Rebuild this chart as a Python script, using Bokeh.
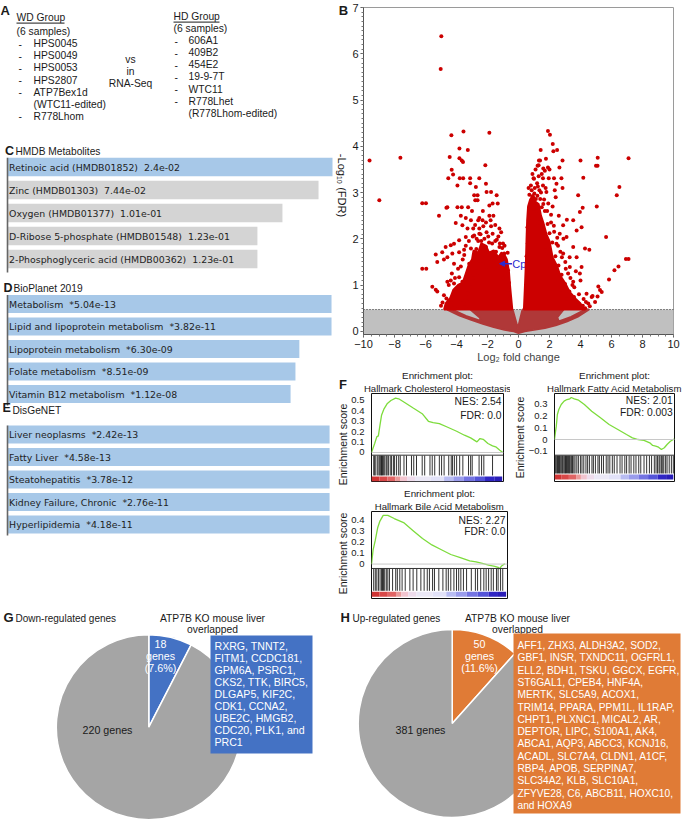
import numpy as np
from bokeh.plotting import figure
from bokeh.models import Range1d, FixedTicker, Span, Arrow, NormalHead, Title, BoxAnnotation, Spacer
from bokeh.layouts import column, row
from bokeh.embed import file_html
from bokeh.resources import INLINE
from bokeh.core.properties import value

SANS = "Liberation Sans"
VERA = "DejaVu Sans"

# ---------------- data: panel A ----------------
WD_LINES = ["(6 samples)", "HPS0045", "HPS0049", "HPS0053", "HPS2807", "ATP7Bex1d", "(WTC11-edited)", "R778Lhom"]
WD_DASH = [False, True, True, True, True, True, False, True]
HD_LINES = ["(6 samples)", "606A1", "409B2", "454E2", "19-9-7T", "WTC11", "R778Lhet", "(R778Lhom-edited)"]
HD_DASH = [False, True, True, True, True, True, True, False]
MID_LINES = ["vs", "in", "RNA-Seq"]

# ---------------- data: panels C, D, E ----------------
C_TERMS = ["Retinoic acid (HMDB01852)", "Zinc (HMDB01303)", "Oxygen (HMDB01377)",
           "D-Ribose 5-phosphate (HMDB01548)", "2-Phosphoglyceric acid (HMDB00362)"]
C_PVALS = ["2.4e-02", "7.44e-02", "1.01e-01", "1.23e-01", "1.23e-01"]
C_LENGTH = [1.0, 0.957, 0.846, 0.769, 0.769]
C_SIGNIF = [True, False, False, False, False]

D_TERMS = ["Metabolism", "Lipid and lipoprotein metabolism", "Lipoprotein metabolism",
           "Folate metabolism", "Vitamin B12 metabolism"]
D_PVALS = ["5.04e-13", "3.82e-11", "6.30e-09", "8.51e-09", "1.12e-08"]
D_LENGTH = [0.997, 0.997, 0.898, 0.886, 0.871]

E_TERMS = ["Liver neoplasms", "Fatty Liver", "Steatohepatitis", "Kidney Failure, Chronic", "Hyperlipidemia"]
E_PVALS = ["2.42e-13", "4.58e-13", "3.78e-12", "2.76e-11", "4.18e-11"]
E_LENGTH = [0.991, 0.991, 0.991, 0.991, 0.991]

# ---------------- data: panel B (volcano) ----------------
FDR_CUT = 0.47
VOLC_X = [-9.61, -7.62, -8.98, -4.98, -5.02, -4.33, -3.55, -1.88, -3.81, -3.27, -4.44, -3.81, -3.66, -3.58,
          -2.14, -4.31, -4.22, -4.53, -3.79, -3.57, -3.12, -2.53, -3.12, -2.75, -2.10, -3.94, -2.86, -2.64,
          -2.06, -1.77, -1.41, -6.21, -5.97, -2.79, -2.64, -1.88, -1.67, -1.34, -4.59, -3.94, -3.66, -3.25,
          -5.13, -4.65, -3.72, -3.40, -3.07, -2.53, -2.32, -1.88, -1.62, -3.29, -2.92, -2.53, -2.27, -1.77,
          -1.23, -4.05, -3.62, -4.70, -4.37, -4.16, -3.83, -3.40, -2.86, -2.53, -2.06, -1.67, -1.12, -5.34,
          -4.92, -4.59, -4.27, -3.83, -3.51, -3.07, -2.10, -1.23, -6.21, -5.95, -5.24, -4.81, -4.16, -3.72,
          -3.18, -5.56, -5.34, -4.59, -4.37, -4.81, -4.65, -4.48, -4.26, -4.16, -3.83, -3.62, -3.40, -5.24,
          -3.90, -3.70, -3.45, -3.30, -3.15, -2.95, -2.70, -2.55, -2.35, -2.85, -1.95, -1.75, -1.55, -1.35,
          -1.05, -0.92, -0.78, -0.68, -1.45, -2.20, -2.72, -0.62, -0.56, -1.90, -1.40, -2.40, -1.00, -0.85,
          -4.50, -4.20, -4.00, -2.90, -2.50, -2.10, -1.60, -1.20, -0.80, -3.10, -3.35, -0.70, -1.00, -2.30,
          -3.40, -3.20, -2.95, -2.70, -2.45, -2.20, -1.95, -1.50, -1.30, -2.80, -2.60, -2.10, -1.80, -3.00,
          -2.30, -1.50, -1.20, -0.90, -3.60, -3.90, -4.30, -4.50, -4.90, -5.00, -4.10, -3.50, -2.60, -1.70,
          -1.05, -0.70,
          1.90, 2.03, 2.21, 1.43, 2.49, 2.25, 1.77, 1.32, 1.39, 2.84, 4.00, 5.11, 7.10, 1.23, 1.30, 1.90,
          1.60, 2.64, 5.00, 5.10, 2.00, 1.70, 0.97, 1.58, 1.95, 2.29, 2.77, 4.18, 1.25, 1.58, 2.45, 2.84,
          2.34, 1.80, 3.85, 6.34, 6.51, 5.05, 4.14, 3.12, 4.07, 5.65, 4.29, 4.57, 7.10, 6.93, 6.45, 6.19,
          5.84, 5.15, 5.26, 4.78, 5.10, 4.35, 4.94, 5.37, 3.96, 3.53, 3.75, 3.10, 3.53, 2.88, 3.75, 3.31,
          4.07, 3.96, 3.53, 4.72, 4.39, 2.88, 2.66, 2.45, 0.60, 0.68, 0.78, 0.90, 1.02, 1.12, 1.22, 1.40,
          1.50, 1.70, 1.88, 2.00, 2.18, 2.38, 2.58, 2.78, 3.00, 3.28, 3.58, 3.88, 4.15, 2.10, 2.28, 1.92,
          2.50, 2.70, 3.02, 3.20, 3.48, 0.62, 0.52, 1.05, 1.35, 0.85, 1.65, 4.30, 4.60,
          0.58, 0.72, 1.15, 1.30, 1.50, 1.75, 2.05, 2.35, 2.70, 3.10, 3.40, 1.00, 1.60, 1.95,
          0.70, 0.80, 1.00, 1.20, 1.45, 1.60, 1.85, 2.10, 2.30, 2.55, 2.80, 3.05, 3.35, 3.60, 3.90,
          4.20, 4.50, 0.65, 1.30, 1.75, 2.20, 2.60, 2.90, 3.30, 3.70, 4.00, 2.40, 1.10, 0.90, 1.50]
VOLC_Y = [3.69, 3.75, 2.83, 6.38, 5.67, 4.24, 4.32, 4.29, 3.95, 3.92, 3.77, 3.74, 3.69, 3.66,
          3.59, 3.49, 3.39, 3.31, 3.31, 3.31, 3.31, 3.31, 3.20, 3.12, 3.19, 3.15, 2.94, 2.94,
          3.01, 3.01, 2.94, 2.77, 2.77, 2.83, 2.83, 2.72, 2.76, 2.76, 2.68, 2.68, 2.68, 2.68,
          2.50, 2.67, 2.50, 2.45, 2.40, 2.45, 2.40, 2.50, 2.50, 2.22, 2.22, 2.22, 2.27, 2.27,
          2.22, 2.34, 2.29, 1.82, 1.86, 1.89, 1.97, 2.04, 2.07, 2.11, 2.14, 2.11, 2.14, 1.66,
          1.71, 1.60, 1.68, 1.71, 1.76, 1.79, 1.82, 1.82, 1.35, 1.35, 1.50, 1.55, 1.46, 1.40,
          1.46, 0.96, 0.90, 1.07, 1.10, 0.78, 0.71, 0.63, 0.60, 1.03, 1.17, 1.07, 0.96, 0.86,
          0.55, 0.68, 0.52, 0.82, 1.00, 1.25, 1.30, 1.52, 1.60, 1.62, 1.58, 1.68, 1.52, 1.60,
          1.55, 1.68, 1.42, 1.32, 1.72, 1.75, 1.78, 1.05, 0.70, 1.92, 1.98, 1.95, 1.90, 1.20,
          0.52, 0.50, 0.75, 1.15, 1.25, 1.32, 1.35, 1.38, 1.45, 0.95, 0.65, 0.90, 1.15, 1.45,
          1.85, 1.95, 2.05, 2.00, 2.10, 2.00, 2.05, 1.95, 2.05, 2.30, 2.40, 2.35, 2.40, 2.60,
          2.60, 2.30, 1.90, 1.85, 1.55, 1.35, 1.25, 1.00, 0.62, 0.55, 1.15, 1.65, 1.95, 1.90,
          1.80, 1.70,
          4.33, 4.25, 4.05, 3.92, 3.92, 3.89, 3.73, 3.69, 3.69, 3.69, 3.69, 3.75, 3.74, 3.58, 3.59, 3.54,
          3.52, 3.54, 3.58, 3.58, 3.50, 3.47, 3.31, 3.31, 3.31, 3.31, 3.31, 3.32, 3.13, 3.15, 3.19, 3.10,
          3.05, 3.01, 2.94, 2.94, 3.12, 2.70, 2.67, 2.41, 2.25, 2.04, 1.79, 1.76, 1.56, 1.56, 1.40, 1.32,
          1.12, 0.97, 0.89, 0.76, 0.75, 0.63, 0.63, 0.85, 2.58, 2.40, 2.18, 2.04, 1.82, 1.68, 1.60, 1.39,
          1.39, 1.25, 1.07, 0.74, 0.81, 2.29, 2.11, 1.89, 1.90, 2.40, 2.72, 2.92, 2.98, 2.86, 2.93, 2.86,
          2.68, 2.60, 2.32, 2.12, 1.92, 1.62, 1.42, 1.22, 1.02, 0.86, 0.74, 0.60, 0.55, 2.52, 2.28, 2.76,
          2.02, 1.72, 1.50, 1.25, 1.00, 2.12, 1.62, 3.10, 3.05, 3.05, 2.85, 0.50, 0.54,
          2.25, 2.45, 2.60, 2.35, 2.00, 1.75, 1.35, 1.10, 0.90, 0.70, 0.55, 2.65, 2.20, 1.62,
          2.95, 3.15, 3.30, 3.20, 3.00, 2.75, 2.60, 2.35, 2.15, 1.85, 1.60, 1.35, 1.15, 0.95, 0.80,
          0.70, 0.60, 3.10, 3.35, 3.10, 2.70, 2.50, 2.00, 1.60, 1.30, 1.10, 2.90, 3.50, 3.40, 3.40]
# dense parts of the two arms (significant) and the non-significant bowl
LEFT_CORE_X = [-4.8, -4.7, -4.4, -4.2, -3.9, -3.6, -3.4, -3.2, -3.0, -2.9, -2.6, -2.4, -2.1, -1.9,
               -1.6, -1.3, -1.1, -0.9, -0.75, -0.62, -0.55, -0.48, -0.40]
LEFT_CORE_Y = [0.47, 0.60, 0.72, 0.90, 1.00, 1.05, 1.25, 1.45, 1.55, 1.75, 1.70, 1.90, 1.85, 1.70,
               1.75, 1.60, 1.70, 1.65, 1.55, 1.30, 1.00, 0.75, 0.47]
RIGHT_CORE_X = [0.35, 0.42, 0.48, 0.52, 0.56, 0.62, 0.75, 0.95, 1.10, 1.30, 1.45, 1.60, 1.80, 2.00,
                2.20, 2.50, 2.70, 3.00, 3.30, 3.70, 4.00, 4.30]
RIGHT_CORE_Y = [0.47, 1.00, 1.50, 2.00, 2.40, 2.70, 2.85, 2.95, 2.80, 2.75, 2.50, 2.35, 2.10, 1.95,
                1.60, 1.40, 1.20, 1.05, 0.85, 0.70, 0.60, 0.47]
BOWL_X = [-4.6, -3.8, -3.0, -2.3, -1.6, -0.9, -0.3, 0.0, 0.4, 1.0, 1.7, 2.4, 3.1, 3.8, 4.55,
          4.3, 3.4, 2.6, 2.5, 2.9, 0.26, -0.04, -0.38, -3.1, -2.5, -2.4, -3.4, -4.3]
BOWL_Y = [0.47, 0.34, 0.24, 0.16, 0.09, 0.03, 0.0, -0.04, 0.0, 0.03, 0.07, 0.13, 0.21, 0.31, 0.47,
          0.47, 0.31, 0.21, 0.30, 0.47, 0.47, 0.06, 0.47, 0.47, 0.30, 0.22, 0.33, 0.47]
CP_GENE = ("Cp", -0.40, 1.46)   # label, log2FC, -log10 FDR of label anchor
CP_POINT = (-1.22, 1.46)
X_TICKS = [-10, -8, -6, -4, -2, 0, 2, 4, 6, 8, 10]
Y_TICKS = [0, 1, 2, 3, 4, 5, 6, 7]

# ---------------- data: panel F (GSEA) ----------------
F1_X = [0.0, 0.024, 0.04, 0.052, 0.064, 0.076, 0.095, 0.118, 0.147, 0.182, 0.206, 0.254, 0.313, 0.384,
        0.431, 0.467, 0.514, 0.573, 0.645, 0.704, 0.751, 0.799, 0.822, 0.846, 0.882, 0.917, 0.941, 0.972, 0.995]
F1_Y = [0.0, 0.086, 0.15, 0.16, 0.26, 0.357, 0.42, 0.468, 0.50, 0.522, 0.516, 0.478, 0.43, 0.373,
        0.30, 0.287, 0.277, 0.245, 0.204, 0.166, 0.14, 0.102, 0.134, 0.127, 0.086, 0.064, 0.054, 0.022, 0.0]
F1_HITS = [0.017, 0.024, 0.033, 0.047, 0.057, 0.064, 0.071, 0.076, 0.083, 0.09, 0.10, 0.111, 0.118, 0.128,
           0.142, 0.152, 0.166, 0.175, 0.19, 0.206, 0.218, 0.246, 0.265, 0.303, 0.32, 0.341, 0.384, 0.403,
           0.443, 0.46, 0.479, 0.514, 0.531, 0.55, 0.585, 0.604, 0.614, 0.628, 0.645, 0.668, 0.692, 0.735,
           0.751, 0.763, 0.815, 0.834, 0.851, 0.917]
F2_X = [0.0, 0.007, 0.015, 0.024, 0.036, 0.056, 0.08, 0.104, 0.128, 0.14, 0.165, 0.201, 0.249, 0.31,
        0.383, 0.455, 0.528, 0.60, 0.649, 0.697, 0.746, 0.794, 0.818, 0.843, 0.867, 0.891, 0.915, 0.94,
        0.966, 0.99, 1.0]
F2_Y = [0.0, 0.056, 0.113, 0.212, 0.254, 0.297, 0.325, 0.339, 0.345, 0.356, 0.345, 0.333, 0.297, 0.24,
        0.184, 0.127, 0.085, 0.042, 0.014, 0.0, -0.008, -0.028, -0.05, -0.056, -0.065, -0.085, -0.07, -0.04,
        -0.015, 0.0, 0.005]
F2_HITS = [0.005, 0.012, 0.02, 0.026, 0.033, 0.041, 0.047, 0.055, 0.063, 0.069, 0.078, 0.086, 0.092, 0.10,
           0.109, 0.116, 0.124, 0.131, 0.141, 0.15, 0.161, 0.171, 0.186, 0.199, 0.216, 0.229, 0.244, 0.262,
           0.276, 0.291, 0.312, 0.324, 0.341, 0.362, 0.374, 0.392, 0.408, 0.431, 0.446, 0.461, 0.482, 0.498,
           0.521, 0.546, 0.563, 0.586, 0.601, 0.622, 0.638, 0.661, 0.679, 0.702, 0.719, 0.746, 0.768, 0.791,
           0.809, 0.832, 0.846, 0.858, 0.871, 0.879, 0.891, 0.902, 0.911, 0.926, 0.938, 0.956, 0.974, 0.99]
F3_X = [0.0, 0.012, 0.028, 0.046, 0.062, 0.086, 0.12, 0.167, 0.236, 0.306, 0.375, 0.444, 0.514, 0.583,
        0.653, 0.722, 0.769, 0.815, 0.861, 0.907, 0.931, 0.942, 0.954, 0.977, 0.98]
F3_Y = [0.0, 0.13, 0.217, 0.333, 0.391, 0.443, 0.443, 0.414, 0.377, 0.304, 0.232, 0.174, 0.13, 0.087,
        0.058, 0.029, 0.02, 0.006, -0.009, -0.02, -0.029, -0.043, -0.02, 0.0, 0.005]
F3_HITS = [0.016, 0.028, 0.039, 0.051, 0.063, 0.074, 0.081, 0.088, 0.097, 0.109, 0.12, 0.132, 0.155, 0.178,
           0.19, 0.208, 0.225, 0.248, 0.282, 0.306, 0.333, 0.363, 0.387, 0.41, 0.426, 0.449, 0.463, 0.495,
           0.525, 0.549, 0.565, 0.583, 0.606, 0.625, 0.641, 0.657, 0.676, 0.699, 0.734, 0.764, 0.78, 0.803,
           0.826, 0.843, 0.861, 0.88, 0.896, 0.919, 0.931, 0.949, 0.965]
GRAD_EDGES = [0.0, 0.06, 0.12, 0.18, 0.22, 0.27, 0.33, 0.45, 0.55, 0.62, 0.70, 0.78, 0.86, 0.93, 0.99]
GRAD_COLORS = ["#cf3434", "#d84848", "#e06464", "#ea9a9a", "#f2c4cf", "#eedcec", "#ebe8f6",
               "#e2e2f8", "#b8bcf2", "#9a9cec", "#7474e2", "#5454d8", "#3026c4", "#2a1eb8"]

# ---------------- data: panels G, H ----------------
G_COUNTS = [18, 220]
G_GENES = ["RXRG, TNNT2,", "FITM1, CCDC181,", "GPM6A, PSRC1,", "CKS2, TTK, BIRC5,", "DLGAP5, KIF2C,",
           "CDK1, CCNA2,", "UBE2C, HMGB2,", "CDC20, PLK1, and", "PRC1"]
H_COUNTS = [50, 381]
H_GENES = ["AFF1, ZHX3, ALDH3A2, SOD2,", "GBF1, INSR, TXNDC11, OGFRL1,", "ELL2, BDH1, TSKU, GGCX, EGFR,",
           "ST6GAL1, CPEB4, HNF4A,", "MERTK, SLC5A9, ACOX1,", "TRIM14, PPARA, PPM1L, IL1RAP,",
           "CHPT1, PLXNC1, MICAL2, AR,", "DEPTOR, LIPC, S100A1, AK4,", "ABCA1, AQP3, ABCC3, KCNJ16,",
           "ACADL, SLC7A4, CLDN1, A1CF,", "RBP4, APOB, SERPINA7,", "SLC34A2, KLB, SLC10A1,",
           "ZFYVE28, C6, ABCB11, HOXC10,", "and HOXA9"]

RED = "#cc0000"
DARK = "#b03838"
BLUE_TXT = "#2b2bd0"
BAR_BLUE = "#a7c8e8"
BAR_GRAY = "#d4d4d4"
PIE_GRAY = "#a5a5a5"
PIE_BLUE = "#4472c4"
PIE_ORANGE = "#e07b36"
GREEN = "#7ddc3c"
INK = "#1a1a1a"

LEFT_W = 348   # width of left column; right column = 683 - LEFT_W


def blank(width, height, xr, yr):
    p = figure(width=width, height=height, x_range=Range1d(*xr), y_range=Range1d(*yr),
               x_axis_type=None, y_axis_type=None, min_border=0,
               output_backend="svg", toolbar_location=None)
    p.outline_line_color = None
    p.grid.visible = False
    return p


def txt(p, xs, ys, texts, size="10.3px", font=SANS, color=INK, align="left", style="normal",
        baseline="middle", angle=0.0):
    p.text(x=xs, y=ys, text=texts, text_font=value(font), text_font_size=size, text_color=color,
           text_align=align, text_baseline=baseline, text_font_style=style, angle=angle)


# ---------------- Panel A (+ letter B) ----------------
pA = blank(LEFT_W, 128, (0, LEFT_W), (128, 0))
txt(pA, [0], [2], ["A"], size="13px", style="bold", baseline="top")
wd_y = [31 + 12.14 * i for i in range(len(WD_LINES))]
txt(pA, [16], [17], ["WD Group"])
pA.segment(x0=[16], y0=[22.6], x1=[64], y1=[22.6], line_color=INK, line_width=1)
txt(pA, [16 if i == 0 else 33 for i in range(len(WD_LINES))], wd_y, WD_LINES)
txt(pA, [18] * sum(WD_DASH), [y for y, d in zip(wd_y, WD_DASH) if d], ["-"] * sum(WD_DASH))
hd_y = [28 + 12.1 * i for i in range(len(HD_LINES))]
txt(pA, [173], [16], ["HD Group"])
pA.segment(x0=[173], y0=[21.6], x1=[219], y1=[21.6], line_color=INK, line_width=1)
txt(pA, [173 if i == 0 else 188 for i in range(len(HD_LINES))], hd_y, HD_LINES)
txt(pA, [174] * sum(HD_DASH), [y for y, d in zip(hd_y, HD_DASH) if d], ["-"] * sum(HD_DASH))
txt(pA, [130] * 3, [59, 71, 82.5], MID_LINES, align="center")
txt(pA, [343], [9.5], ["B"], size="13px", style="bold", align="center")

# ---------------- Panels C, D, E (+ side labels of B and F) ----------------
PX = 325.0  # screen pixels per unit of bar length


def bx(page_x):
    return (page_x - 7) / PX


pCDE = blank(LEFT_W, 472, (bx(0), bx(LEFT_W)), (600, 128))


def bar_block(first, pitch, bar_h, letter, lx, ly, title, tx, ty, labels, lengths, colors, line_end):
    rows = [first + pitch * i for i in range(len(labels))]
    pCDE.hbar(y=rows, left=0, right=lengths, height=bar_h, fill_color=colors, line_color=None)
    pCDE.segment(x0=[0], y0=[rows[0] - bar_h / 2], x1=[0], y1=[line_end], line_color="#666666", line_width=1.6)
    txt(pCDE, [bx(8.6)] * len(labels), rows, labels, size="9.4px", font=VERA, color="#1e1e1e")
    txt(pCDE, [bx(lx)], [ly], [letter], size="12.5px", style="bold")
    txt(pCDE, [bx(tx)], [ty], [title], size="10.2px")


bar_block(166.5, 23, 18.5, "C", 4.5, 150, "HMDB Metabolites", 15, 150.5,
          [t + "\u00a0 " + v for t, v in zip(C_TERMS, C_PVALS)], C_LENGTH,
          [BAR_BLUE if s else BAR_GRAY for s in C_SIGNIF], 272)
bar_block(303.5, 22.5, 18, "D", 3, 287, "BioPlanet 2019", 13, 287.5,
          [t + "\u00a0 *" + v for t, v in zip(D_TERMS, D_PVALS)], D_LENGTH, [BAR_BLUE] * 5, 405)
bar_block(434, 22.5, 18, "E", 2, 407, "DisGeNET", 12, 410,
          [t + "\u00a0 *" + v for t, v in zip(E_TERMS, E_PVALS)], E_LENGTH, [BAR_BLUE] * 5, 535)
# labels that sit left of the B and F panels
txt(pCDE, [bx(341.5)], [185], ["-Log\u2081\u2080 (FDR)"], size="11px", align="center", angle=-np.pi / 2)
txt(pCDE, [bx(342.5)], [384], ["F"], size="13px", style="bold", align="center")
txt(pCDE, [bx(342), bx(342)], [444, 553], ["Enrichment score"] * 2, size="10.5px", align="center",
    angle=np.pi / 2)

# ---------------- Panel B: volcano ----------------
RW = 683 - LEFT_W
pB = figure(width=RW, height=365, x_range=Range1d(-10, 10), y_range=Range1d(-0.07, 7.0),
            min_border_left=363 - LEFT_W, min_border_right=10, min_border_top=7, min_border_bottom=31,
            output_backend="svg", toolbar_location=None)
pB.grid.visible = False
pB.outline_line_color = "#9a9a9a"
pB.add_layout(BoxAnnotation(bottom=-1, top=FDR_CUT, fill_color="#c0c0c0", fill_alpha=1.0,
                            line_color=None, level="underlay"))
pB.add_layout(Span(location=FDR_CUT, dimension="width", line_color="#222222", line_dash="1 2",
                   line_width=1, level="underlay"))
pB.patch(BOWL_X, BOWL_Y, fill_color=DARK, line_color=DARK, line_width=2)
pB.patch(LEFT_CORE_X, LEFT_CORE_Y, fill_color=RED, line_color=RED, line_width=2)
pB.text(x=[CP_GENE[1]], y=[CP_GENE[2]], text=[CP_GENE[0]], text_font=value(SANS), text_font_size="11px",
        text_color=BLUE_TXT, text_baseline="middle", text_align="left")
pB.patch(RIGHT_CORE_X, RIGHT_CORE_Y, fill_color=RED, line_color=RED, line_width=2)
pB.scatter(VOLC_X, VOLC_Y, size=4, fill_color=RED, line_color=None)
pB.add_layout(Arrow(end=NormalHead(size=5, line_color=BLUE_TXT, fill_color=BLUE_TXT),
                    x_start=CP_GENE[1] - 0.02, y_start=CP_GENE[2], x_end=CP_POINT[0], y_end=CP_POINT[1],
                    line_color=BLUE_TXT, line_width=1.5))
pB.xaxis.ticker = FixedTicker(ticks=X_TICKS, minor_ticks=[x / 2 for x in range(-20, 21)])
pB.yaxis.ticker = FixedTicker(ticks=Y_TICKS, minor_ticks=[y / 10 for y in range(0, 71)])
for ax in (pB.xaxis[0], pB.yaxis[0]):
    ax.axis_line_color = "#555555"
    ax.major_tick_line_color = "#555555"
    ax.minor_tick_line_color = "#777777"
    ax.major_tick_out = 3
    ax.major_tick_in = 0
    ax.minor_tick_out = 2
    ax.minor_tick_in = 0
    ax.major_label_standoff = 2
    ax.major_label_text_font = SANS
    ax.major_label_text_font_size = "11px"
    ax.major_label_text_color = INK
pB.xaxis.axis_label = "Log\u2082 fold change"
pB.xaxis.axis_label_text_font = SANS
pB.xaxis.axis_label_text_font_size = "11px"
pB.xaxis.axis_label_text_font_style = "normal"
pB.xaxis.axis_label_standoff = 0


# ---------------- Panel F: GSEA ----------------
def gsea(width, height, borders, yr, ticks, es_x, es_y, hits, hit_band, grad_band, sep, titles,
         nes, fdr, nes_y, fdr_y, axis_label=None):
    bl, br, bt, bb = borders
    p = figure(width=width, height=height, x_range=Range1d(0, 1), y_range=Range1d(*yr), x_axis_type=None,
               min_border_left=bl, min_border_right=br, min_border_top=bt, min_border_bottom=bb,
               output_backend="svg", toolbar_location=None)
    p.grid.visible = False
    p.outline_line_color = "#111111"
    ax = p.yaxis[0]
    ax.ticker = FixedTicker(ticks=ticks, minor_ticks=[])
    ax.axis_line_color = None
    ax.major_tick_line_color = None
    ax.minor_tick_line_color = None
    ax.major_label_standoff = 1
    ax.major_label_text_font = SANS
    ax.major_label_text_font_size = "9.5px"
    ax.major_label_text_color = INK
    ax.major_label_overrides = {0: "0"}
    if axis_label:
        ax.axis_label = axis_label
        ax.axis_label_text_font = SANS
        ax.axis_label_text_font_size = "10.5px"
        ax.axis_label_text_font_style = "normal"
        ax.axis_label_text_color = INK
        ax.axis_label_standoff = 0
    p.title.text = titles[0]
    p.title.align = "center"
    p.title.text_font = SANS
    p.title.text_font_size = "9.8px"
    p.title.text_font_style = "normal"
    p.title.text_color = INK
    p.title.standoff = 0
    p.title.offset = 0
    p.add_layout(Title(text=titles[1], align="center", text_font=SANS, text_font_size="9.6px",
                       text_font_style="normal", text_color=INK, standoff=0), "above")
    p.add_layout(Span(location=0, dimension="width", line_color="#c8c8c8", line_width=1))
    p.add_layout(Span(location=sep, dimension="width", line_color="#333333", line_width=1))
    p.line(es_x, es_y, line_color=GREEN, line_width=1.3)
    p.segment(x0=hits, y0=[hit_band[0]] * len(hits), x1=hits, y1=[hit_band[1]] * len(hits),
              line_color="black", line_width=1, line_alpha=0.8)
    p.quad(left=GRAD_EDGES[:-1], right=GRAD_EDGES[1:], bottom=grad_band[0], top=grad_band[1],
           fill_color=GRAD_COLORS, line_color=None)
    txt(p, [0.985, 0.985], [nes_y, fdr_y], [nes, fdr], size="10.3px", align="right")
    return p


W_F1 = 510 - LEFT_W
pF1 = gsea(W_F1, 120, (363 - LEFT_W, 7, 28, 4), (-0.279, 0.567), [0, 0.1, 0.2, 0.3, 0.4, 0.5],
           F1_X, F1_Y, F1_HITS, (-0.221, -0.029), (-0.279, -0.231), -0.026,
           ["Enrichment plot:", "Hallmark Cholesterol Homeostasis"], "NES: 2.54", "FDR: 0.0", 0.49, 0.356)
pF2 = gsea(683 - 510, 120, (27, 9, 28, 4), (-0.356, 0.39), [-0.1, 0, 0.1, 0.2, 0.3],
           F2_X, F2_Y, F2_HITS, (-0.288, -0.136), (-0.339, -0.297), -0.133,
           ["Enrichment plot:", "Hallmark Fatty Acid Metabolism"], "NES: 2.01", "FDR: 0.003", 0.33, 0.23,
           axis_label="Enrichment score")
W_F3 = 509 - LEFT_W
pF3 = gsea(W_F3, 115, (363 - LEFT_W, 2, 22, 2), (-0.313, 0.478), [0, 0.1, 0.2, 0.3, 0.4],
           F3_X, F3_Y, F3_HITS, (-0.243, -0.043), (-0.296, -0.252), -0.04,
           ["Enrichment plot:", "Hallmark Bile Acid Metabolism"], "NES: 2.27", "FDR: 0.0", 0.40, 0.296)


# ---------------- Panels G, H: pies ----------------
def pie(width, counts, colors, cx, cy, r, letter, title, lx, tx, head_x, box, genes, gx, g0, gstep, gsize,
        slice_pos, rest_pos):
    p = blank(width, 220, (0, width), (-220, 0))
    frac = np.array(counts, dtype=float) / np.sum(counts)
    cum = np.concatenate([[0.0], np.cumsum(frac)])
    starts = np.pi / 2 - 2 * np.pi * cum[:-1]
    ends = np.pi / 2 - 2 * np.pi * cum[1:]
    p.wedge(x=cx, y=cy, radius=r, start_angle=list(starts), end_angle=list(ends), direction="clock",
            fill_color=colors, line_color="white", line_width=1.5)
    pct = "(%.1f%%)" % (100 * frac[0])
    txt(p, [slice_pos[0]] * 3, [slice_pos[1], slice_pos[1] - 12, slice_pos[1] - 24],
        [str(counts[0]), "genes", pct], size="10.7px", color="white", align="center")
    txt(p, [rest_pos[0]], [rest_pos[1]], ["%d genes" % counts[1]], size="10.7px", align="center")
    txt(p, [lx], [-16.7], [letter], size="13px", style="bold")
    txt(p, [tx], [-17.5], [title], size="10px")
    txt(p, [head_x, head_x], [-17.5, -29], ["ATP7B KO mouse liver", "overlapped"], size="10.3px", align="center")
    p.quad(left=[box[0]], right=[box[1]], top=[box[2]], bottom=[box[3]], fill_color=colors[0], line_color=None)
    txt(p, [gx] * len(genes), [g0 - gstep * i for i in range(len(genes))], genes, size=gsize, color="white")
    return p


pG = pie(340, G_COUNTS, [PIE_BLUE, PIE_GRAY], 148.3, -126.7, 92.5, "G", "Down-regulated genes", 3, 15, 212,
         (210, 312, -35, -153), G_GENES, 214, -45, 12.1, "10.6px", (160, -43), (107, -129))
pH = pie(343, H_COUNTS, [PIE_ORANGE, PIE_GRAY], 111.7, -123, 94, "H", "Up-regulated genes", 0, 12, 177,
         (173, 340, -33, -213), H_GENES, 177, -45, 12.3, "10.2px", (139, -43), (80, -129))

left = column(pA, pCDE)
right = column(pB, row(pF1, pF2), row(pF3, Spacer(width=RW - W_F3, height=115)))
layout = column(row(left, right), row(pG, pH))

open("out.html", "w").write(file_html(layout, INLINE))
